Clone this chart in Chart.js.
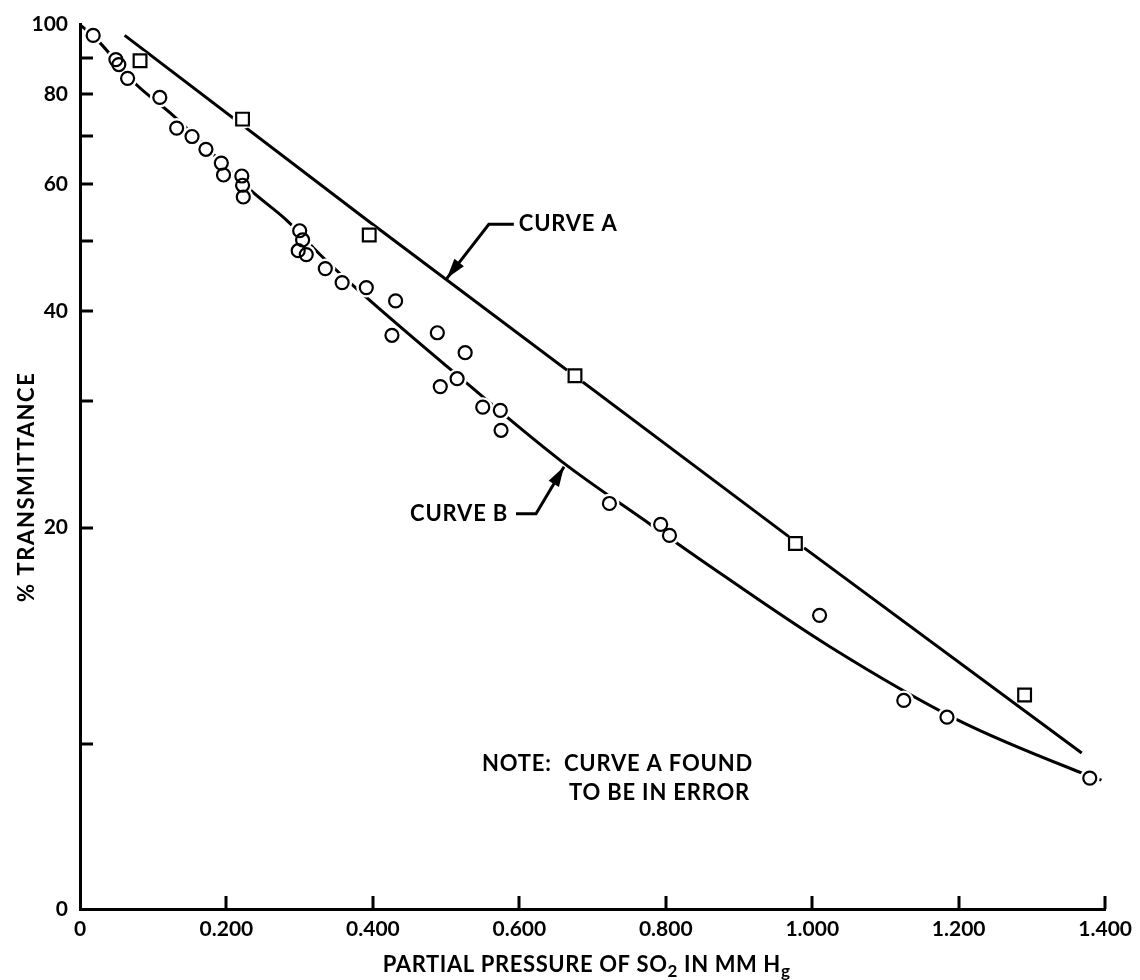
<!DOCTYPE html>
<html>
<head>
<meta charset="utf-8">
<script src="https://cdn.jsdelivr.net/npm/chart.js@4.4.0/dist/chart.umd.min.js"></script>
<style>
  html, body { margin: 0; padding: 0; background: #fff; }
  #wrap { width: 1140px; height: 980px; }
</style>
</head>
<body>
<div id="wrap"><canvas id="chart" width="1140" height="980"></canvas></div>
<script>
// DATA
// curve B measurements (circles)
const circleX = [0.018, 0.049, 0.053, 0.065, 0.109, 0.132, 0.153, 0.172, 0.193, 0.196, 0.221, 0.222, 0.223,
  0.300, 0.304, 0.298, 0.309, 0.335, 0.358, 0.391, 0.431, 0.426, 0.488, 0.526, 0.515, 0.492, 0.550, 0.574, 0.575,
  0.723, 0.793, 0.805, 1.010, 1.125, 1.184, 1.379];
const circleY = [96.6, 89.4, 88.0, 84.2, 79.2, 71.8, 69.9, 67.1, 64.2, 61.8, 61.6, 59.8, 57.6,
  51.7, 50.2, 48.5, 47.9, 45.8, 43.8, 43.1, 41.3, 37.0, 37.3, 35.0, 32.2, 31.4, 29.4, 29.1, 27.3,
  21.6, 20.2, 19.5, 15.1, 11.5, 10.9, 8.97];

// curve A measurements (squares)
const squareX = [0.082, 0.222, 0.395, 0.676, 0.977, 1.290];
const squareY = [89.1, 73.9, 51.0, 32.5, 19.0, 11.7];

// drawn curves
const curveAX = [0.061, 0.395, 0.963, 1.368];
const curveAY = [96.6, 53.2, 19.6, 9.72];
const curveBX = [0, 0.027, 0.074, 0.127, 0.236, 0.282, 0.327, 0.375, 0.504, 0.658, 0.779, 0.849, 1.022, 1.199, 1.368, 1.395];
const curveBY = [100, 94.4, 83.1, 74.8, 58.5, 53.5, 48.0, 43.2, 33.3, 24.7, 20.2, 18.0, 13.7, 10.8, 9.12, 8.91];

// axes
const xMin = 0, xMax = 1.4, xStep = 0.2;
const yMin = 5.9, yMax = 100;
const yTickValues = [yMin, 10, 20, 30, 40, 50, 60, 70, 80, 90, 100];
const yLabelled = [20, 40, 60, 80, 100];

const FONT = 'Lato';
const pts = (xs, ys) => xs.map((x, i) => ({ x, y: ys[i] }));

// tick marks drawn inside the plot, plus labels, arrows and axis titles
const extras = {
  id: 'extras',
  afterDraw(chart) {
    const { ctx, chartArea: area, scales: { x, y } } = chart;
    ctx.save();
    ctx.strokeStyle = '#000';
    ctx.fillStyle = '#000';
    ctx.lineWidth = 3;
    ctx.lineCap = 'butt';

    // inner tick marks
    for (let v = 10; v <= 90; v += 10) {
      const py = Math.round(y.getPixelForValue(v));
      ctx.beginPath(); ctx.moveTo(area.left, py); ctx.lineTo(area.left + 13, py); ctx.stroke();
    }
    for (let v = xStep; v <= xMax + 1e-9; v += xStep) {
      const px = Math.round(x.getPixelForValue(v));
      ctx.beginPath(); ctx.moveTo(px, area.bottom); ctx.lineTo(px, area.bottom - 13); ctx.stroke();
    }

    // arrows with labels
    function arrow(tip, elbow, end) {
      ctx.lineWidth = 3;
      ctx.beginPath();
      ctx.moveTo(end[0], end[1]); ctx.lineTo(elbow[0], elbow[1]); ctx.lineTo(tip[0], tip[1]);
      ctx.stroke();
      const a = Math.atan2(tip[1] - elbow[1], tip[0] - elbow[0]);
      const L = 20, W = 6;
      ctx.beginPath();
      ctx.moveTo(tip[0], tip[1]);
      ctx.lineTo(tip[0] - L * Math.cos(a) + W * Math.sin(a), tip[1] - L * Math.sin(a) - W * Math.cos(a));
      ctx.lineTo(tip[0] - L * Math.cos(a) - W * Math.sin(a), tip[1] - L * Math.sin(a) + W * Math.cos(a));
      ctx.closePath();
      ctx.fill();
    }

    ctx.font = `bold 22px ${FONT}`;
    ctx.letterSpacing = '0.8px';
    ctx.textBaseline = 'middle';

    const ta = [x.getPixelForValue(0.501), y.getPixelForValue(44.4)];
    arrow(ta, [ta[0] + 42, ta[1] - 54], [ta[0] + 67, ta[1] - 54]);
    ctx.textAlign = 'left';
    ctx.fillText('CURVE A', ta[0] + 72, ta[1] - 54);

    const tb = [x.getPixelForValue(0.661), y.getPixelForValue(24.3)];
    arrow(tb, [tb[0] - 28, tb[1] + 47], [tb[0] - 48, tb[1] + 47]);
    ctx.textAlign = 'right';
    ctx.fillText('CURVE B', tb[0] - 56, tb[1] + 47);

    // note
    const nx = x.getPixelForValue(0.549), ny = y.getPixelForValue(9.4);
    ctx.textAlign = 'left';
    ctx.fillText('NOTE:  CURVE A FOUND', nx, ny);
    ctx.fillText('TO BE IN ERROR', nx + 87, ny + 29);

    // x axis title with subscripts
    ctx.letterSpacing = '0.6px';
    const parts = [['PARTIAL PRESSURE OF SO', false], ['2', true], [' IN MM H', false], ['g', true]];
    const big = `bold 22px ${FONT}`, small = `bold 17px ${FONT}`;
    let total = 0;
    parts.forEach(([t, sub]) => { ctx.font = sub ? small : big; total += ctx.measureText(t).width; });
    let cx = (area.left + area.right) / 2 - 6 - total / 2;
    const ty = area.bottom + 63;
    ctx.textAlign = 'left';
    ctx.textBaseline = 'alphabetic';
    parts.forEach(([t, sub]) => {
      ctx.font = sub ? small : big;
      ctx.fillText(t, cx, sub ? ty + 5 : ty);
      cx += ctx.measureText(t).width;
    });

    // y axis title
    ctx.font = big;
    ctx.letterSpacing = '1.6px';
    ctx.textAlign = 'center';
    ctx.textBaseline = 'middle';
    ctx.translate(27, (area.top + area.bottom) / 2 + 20);
    ctx.rotate(-Math.PI / 2);
    ctx.fillText('% TRANSMITTANCE', 0, 0);
    ctx.restore();
  }
};

const ink = '#000';

new Chart(document.getElementById('chart'), {
  type: 'scatter',
  data: {
    datasets: [
      {
        label: 'Curve A',
        data: pts(curveAX, curveAY),
        showLine: true,
        borderColor: ink,
        borderWidth: 3,
        pointRadius: 0,
        tension: 0,
        order: 3
      },
      {
        label: 'Curve B',
        data: pts(curveBX, curveBY),
        showLine: true,
        borderColor: ink,
        borderWidth: 3,
        pointRadius: 0,
        cubicInterpolationMode: 'monotone',
        order: 3
      },
      {
        // white halo so the curves break around each marker
        label: 'gap',
        data: pts(circleX, circleY).concat(pts(squareX, squareY)),
        pointRadius: 10,
        pointBackgroundColor: '#fff',
        pointBorderWidth: 0,
        order: 2
      },
      {
        label: 'B points',
        data: pts(circleX, circleY),
        pointStyle: 'circle',
        pointRadius: 6.5,
        pointBorderWidth: 2.2,
        pointBorderColor: ink,
        pointBackgroundColor: 'rgba(0,0,0,0)',
        order: 1
      },
      {
        label: 'A points',
        data: pts(squareX, squareY),
        pointStyle: 'rect',
        pointRadius: 9,
        pointBorderWidth: 2.2,
        pointBorderColor: ink,
        pointBackgroundColor: 'rgba(0,0,0,0)',
        order: 1
      }
    ]
  },
  options: {
    responsive: false,
    animation: false,
    devicePixelRatio: 1,
    layout: { padding: { top: 22, right: 32, left: 0, bottom: 0 } },
    plugins: { legend: { display: false }, tooltip: { enabled: false } },
    scales: {
      x: {
        type: 'linear',
        min: xMin,
        max: xMax,
        afterFit: s => { s.height = 71; },
        afterBuildTicks: s => {
          const t = [];
          for (let v = xMin; v <= xMax + 1e-9; v += xStep) t.push({ value: +v.toFixed(1) });
          s.ticks = t;
        },
        ticks: {
          color: ink,
          padding: 8,
          maxRotation: 0,
          font: { family: FONT, size: 21, weight: 'bold' },
          callback: v => (v === 0 ? '0' : v.toFixed(3))
        },
        grid: { drawOnChartArea: false, drawTicks: false },
        border: { display: true, color: ink, width: 3 }
      },
      y: {
        type: 'logarithmic',
        min: yMin,
        max: yMax,
        afterFit: s => { s.width = 80; },
        afterBuildTicks: s => { s.ticks = yTickValues.map(v => ({ value: v })); },
        ticks: {
          color: ink,
          padding: 12,
          autoSkip: false,
          font: { family: FONT, size: 21, weight: 'bold' },
          callback: v => (v === yMin ? '0' : (yLabelled.includes(v) ? String(v) : ''))
        },
        grid: { drawOnChartArea: false, drawTicks: false },
        border: { display: true, color: ink, width: 3 }
      }
    }
  },
  plugins: [extras]
});
</script>
</body>
</html>
